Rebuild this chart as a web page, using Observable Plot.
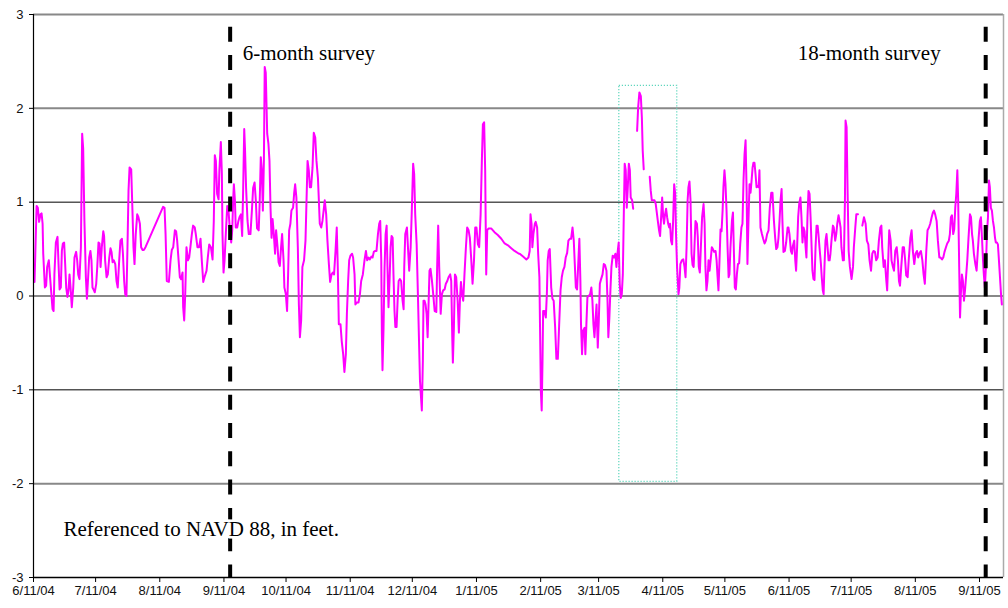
<!DOCTYPE html>
<html><head><meta charset="utf-8">
<script src="https://cdn.jsdelivr.net/npm/d3@7"></script>
<script src="https://cdn.jsdelivr.net/npm/@observablehq/plot@0.6"></script>
<style>body{margin:0;background:#fff;} svg{display:block}</style>
</head><body><div id="chart"></div>
<script>
// ---- data ----
const startDate = "2004-06-11T00:00Z";
const endDate = "2005-09-22T14:24Z";
const xTickLabels = ["6/11/04","7/11/04","8/11/04","9/11/04","10/11/04","11/11/04","12/11/04","1/11/05","2/11/05","3/11/05","4/11/05","5/11/05","6/11/05","7/11/05","8/11/05","9/11/05"];
const yTicks = [-3,-2,-1,0,1,2,3];
const gridGray = [3,2,0,-2];
const gridDark = [1,-1];
const surveyDates = ["2004-09-14","2005-09-14"];
const surveyLabels = ["6-month survey","18-month survey"];
const boxDates = ["2005-03-21","2005-04-18"];
const boxLevels = [-1.98, 2.24];
const note = "Referenced to NAVD 88, in feet.";
// [days since 6/11/04, water level ft]; null = gap in record
const readings = [
[0.5,0.15],[1.5,0.96],[2.1,0.94],[2.7,0.79],[3.4,0.87],[3.9,0.88],[4.4,0.77],[4.7,0.45],[5.5,0.09],[6.1,0.11],[6.6,0.31],[7.4,0.38],[7.9,0.23],[8.5,0.06],[9.2,-0.14],[9.7,-0.16],[10.1,0.23],[10.8,0.57],[11.6,0.63],[12.1,0.34],[12.6,0.07],[13.2,0.09],[13.7,0.48],[14.2,0.56],[14.8,0.57],[15.3,0.34],[15.8,0.09],[16.4,-0.01],[16.9,0.06],[17.4,0.23],[17.9,0.09],[18.5,-0.12],[19.2,0.09],[19.8,0.41],[20.6,0.47],[21.1,0.38],[21.6,0.23],[22.2,0.18],[22.9,0.52],[23.5,1.73],[24.0,1.57],[24.6,0.80],[25.3,0.20],[25.8,-0.03],[26.3,0.16],[26.9,0.41],[27.5,0.48],[28.0,0.38],[28.5,0.09],[29.2,0.06],[29.6,0.04],[30.3,0.13],[30.8,0.31],[31.4,0.57],[31.9,0.56],[32.4,0.31],[33.0,0.52],[33.7,0.69],[34.1,0.64],[34.6,0.38],[35.3,0.20],[35.9,0.23],[36.6,0.41],[37.2,0.51],[37.7,0.47],[38.2,0.36],[38.8,0.38],[39.5,0.34],[40.1,0.16],[40.7,0.09],[41.4,0.38],[42.0,0.59],[42.7,0.61],[43.2,0.45],[43.8,0.16],[44.3,0.02],[44.9,0.0],[45.4,0.52],[45.9,1.12],[46.4,1.37],[47.2,1.35],[47.8,0.91],[48.3,0.52],[48.8,0.34],[49.4,0.66],[50.1,0.87],[50.7,0.84],[51.4,0.77],[52.0,0.52],[52.7,0.49],[53.3,0.49],[54.1,0.52],[62.6,0.95],[63.3,0.94],[63.8,0.66],[64.4,0.16],[65.4,0.15],[66.2,0.38],[66.8,0.49],[67.5,0.52],[68.3,0.70],[68.9,0.69],[69.4,0.59],[70.1,0.38],[70.7,0.20],[71.3,0.18],[72.0,0.25],[72.3,-0.12],[72.8,-0.26],[73.3,0.02],[73.9,0.52],[74.6,0.38],[75.2,0.41],[75.8,0.52],[76.5,0.66],[77.1,0.75],[77.9,0.73],
[78.4,0.66],[79.2,0.52],[80.0,0.52],[80.7,0.61],[81.3,0.38],[82.0,0.15],[82.6,0.20],[83.6,0.27],[84.2,0.41],[84.9,0.55],[85.7,0.52],[86.5,0.39],[87.1,0.80],[87.6,1.50],[88.1,1.44],[88.7,1.09],[89.4,1.03],[89.8,1.34],[90.5,1.64],[91.0,1.30],[91.3,0.66],[91.8,0.25],[92.3,0.38],[92.9,0.66],[93.6,0.96],[94.2,0.91],[94.8,0.73],[95.5,0.57],[96.0,0.70],[96.5,1.05],[96.8,1.19],[97.3,1.02],[97.7,0.73],[98.4,0.73],[99.0,0.80],[99.5,0.84],[100.2,0.87],[100.8,0.64],[101.3,1.15],[101.8,1.78],[102.2,1.55],[102.7,1.15],[103.4,0.80],[104.0,0.66],[104.8,0.66],[105.5,0.91],[106.1,1.15],[106.8,1.21],[107.4,1.02],[108.0,0.72],[108.8,0.70],[109.3,1.02],[109.8,1.48],[110.3,1.34],[110.8,0.91],[111.3,1.44],[111.7,2.44],[112.2,2.38],[112.9,1.73],[113.5,1.62],[114.0,1.44],[114.5,0.94],[115.0,0.62],[115.5,0.82],[116.1,0.66],[116.7,0.45],[117.2,0.70],[117.9,0.52],[118.4,0.36],[119.0,0.32],[119.6,0.52],[120.1,0.66],[120.8,0.38],[121.2,0.09],[121.9,0.02],[122.5,-0.16],[123.0,0.23],[123.5,0.70],[124.1,0.77],[124.6,0.91],[125.4,0.94],[125.9,1.09],[126.4,1.19],[127.0,1.05],[127.7,0.52],[128.2,-0.09],[128.7,-0.44],[129.3,-0.26],[129.9,0.31],[130.7,0.38],[131.4,0.59],[131.9,1.02],[132.4,1.44],[133.0,1.34],[133.5,1.16],[134.1,1.16],[134.8,1.37],[135.4,1.74],[136.1,1.69],[136.7,1.44],[137.4,1.26],[137.8,1.05],[138.3,0.77],[139.0,0.73],[139.6,0.80],[140.3,0.94],[140.7,1.02],[141.4,0.87],[142.0,0.59],[142.7,0.34],[143.3,0.15],[144.0,0.23],[144.6,0.25],[145.2,0.23],[145.9,0.48],[146.5,0.73],[147.0,0.30],[147.5,-0.30],[148.3,-0.30],[148.9,-0.48],[149.6,-0.62],[150.2,-0.81],[150.9,-0.62],[151.4,-0.19],[152.0,0.16],[152.5,0.38],[153.1,0.43],[153.9,0.45],[154.4,0.41],[155.1,0.23],[155.5,-0.09],[156.2,-0.07],
[157.0,-0.07],[157.7,0.02],[158.3,0.16],[159.1,0.23],[159.9,0.38],[160.6,0.48],[161.2,0.38],[161.9,0.41],[162.5,0.39],[163.2,0.42],[163.8,0.41],[164.4,0.47],[165.1,0.48],[165.7,0.48],[166.4,0.66],[167.0,0.77],[167.5,0.80],[168.0,0.38],[168.3,-0.40],[168.6,-0.79],[169.1,-0.34],[169.6,0.31],[170.1,0.66],[170.6,0.75],[171.0,0.31],[171.5,-0.12],[172.0,0.16],[172.5,0.52],[173.0,0.64],[173.5,0.62],[173.9,0.23],[174.4,-0.16],[174.8,-0.33],[175.4,-0.33],[175.9,-0.05],[176.4,0.16],[177.0,0.18],[177.6,0.16],[178.3,-0.05],[178.8,-0.14],[179.1,0.31],[179.6,0.66],[180.4,0.73],[180.9,0.52],[181.5,0.27],[182.2,0.52],[182.8,0.94],[183.4,1.41],[183.9,1.30],[184.4,0.87],[185.1,0.55],[185.7,0.02],[186.2,-0.44],[186.7,-0.90],[187.1,-1.04],[187.6,-1.22],[188.1,-0.69],[188.4,-0.05],[188.9,-0.05],[189.4,-0.09],[189.9,-0.19],[190.4,-0.44],[190.9,-0.05],[191.3,0.27],[191.8,0.29],[192.5,0.16],[193.1,0.02],[193.8,-0.16],[194.6,-0.17],[195.0,0.31],[195.5,0.75],[196.0,0.31],[196.7,-0.19],[197.3,0.02],[197.9,0.06],[198.6,0.07],[199.2,0.13],[199.9,0.16],[200.5,0.20],[201.3,0.23],[201.8,0.16],[202.3,-0.44],[202.6,-0.71],[203.1,-0.33],[203.6,0.23],[204.2,0.20],[204.9,-0.05],[205.5,-0.39],[206.0,-0.05],[206.5,0.15],[207.0,0.02],[207.6,-0.05],[208.2,0.23],[208.9,0.52],[209.5,0.73],[210.2,0.70],[210.8,0.62],[211.5,0.38],[212.1,0.13],[212.8,0.38],[213.4,0.73],[214.0,0.73],[214.7,0.55],[215.3,0.52],[216.0,0.87],[216.6,1.44],[217.1,1.83],[217.7,1.85],[218.2,1.34],[218.7,0.23],[219.2,0.70],[219.8,0.72],[221.1,0.72],[222.7,0.68],[224.3,0.65],[226.0,0.61],[227.6,0.56],[229.2,0.54],[230.8,0.51],[232.4,0.48],[234.5,0.45],
[234.9,0.45],[236.5,0.42],[238.1,0.39],[239.1,0.41],[239.7,0.48],[240.1,0.87],[240.6,0.77],[241.0,0.52],[241.5,0.66],[242.2,0.77],[242.6,0.79],[243.3,0.73],[243.8,0.45],[244.4,0.20],[244.7,-0.33],[245.1,-1.01],[245.5,-1.22],[245.9,-0.69],[246.2,-0.16],[246.8,-0.16],[247.5,-0.23],[248.0,0.02],[248.4,0.38],[248.9,0.48],[249.4,0.50],[250.1,0.09],[250.7,-0.03],[251.3,-0.05],[252.0,-0.33],[252.6,-0.67],[253.3,-0.67],[253.9,-0.33],[254.6,0.06],[255.2,0.20],[255.8,0.27],[256.5,0.31],[257.1,0.41],[257.8,0.46],[258.4,0.59],[259.1,0.61],[259.7,0.61],[260.4,0.73],[261.0,0.59],[261.5,0.34],[262.0,0.09],[262.6,0.07],[263.3,0.41],[263.7,0.61],[264.2,0.16],[264.5,-0.30],[265.0,-0.62],[265.5,-0.37],[266.2,-0.34],[266.6,-0.62],[267.1,-0.30],[267.6,-0.01],[268.2,0.0],[268.9,0.02],[269.5,0.09],[270.0,-0.05],[270.5,-0.30],[271.0,-0.44],[271.5,-0.26],[272.0,-0.09],[272.6,-0.55],[273.1,-0.26],[273.6,0.13],[274.2,0.18],[274.9,0.23],[275.5,0.34],[276.1,0.33],[276.8,0.27],[277.3,-0.05],[277.7,-0.44],[278.2,-0.23],[278.7,0.06],[279.2,0.31],[279.8,0.43],[280.5,0.41],[281.1,0.45],[281.6,0.31],[282.1,0.45],[282.7,0.57],[283.2,0.13],[283.7,-0.02],[284.2,0.02],[284.7,0.23],[285.2,0.91],[285.6,1.41],[286.1,1.34],[286.6,0.94],[287.1,1.16],[287.6,1.41],[288.1,1.34],[288.5,1.05],[289.2,1.02],[289.7,0.93],[290.6,null],[291.6,1.76],[292.1,2.01],[292.7,2.17],[293.4,2.13],[293.9,1.90],[294.3,1.55],[294.8,1.35],[296.0,null],[297.7,1.27],[298.2,1.12],[298.7,1.02],[299.3,1.02],[300.0,1.02],[300.6,0.98],[301.1,0.89],[301.6,0.80],[302.2,0.70],[302.7,0.64],[303.2,0.84],[303.7,1.05],[304.2,0.84],[304.6,0.77],[305.1,0.87],[305.6,0.93],[306.1,0.84],[306.6,0.77],[307.1,0.73],[307.5,0.77],[308.0,0.59],[308.5,0.55],[309.0,0.80],[309.5,1.19],[310.0,1.09],[310.4,0.66],[310.9,0.31],[311.6,0.02],[312.0,0.09],[312.5,0.34],
[313.2,0.38],[313.9,0.39],[314.5,0.31],[315.0,0.20],[315.5,0.52],[316.0,1.02],[316.4,1.16],[316.9,1.22],[317.4,1.02],[317.9,0.45],[318.4,0.33],[318.9,0.31],[319.3,0.52],[319.8,0.80],[320.5,0.77],[320.9,0.63],[321.4,0.31],[321.9,0.25],[322.4,0.52],[323.0,0.84],[323.7,0.98],[324.2,0.77],[324.6,0.31],[325.1,0.06],[325.6,0.16],[326.1,0.38],[326.6,0.27],[327.1,0.38],[327.7,0.52],[328.2,0.50],[328.8,0.47],[329.5,0.48],[330.0,0.38],[330.4,0.23],[330.9,0.06],[331.4,0.38],[331.9,0.71],[332.4,0.69],[332.9,0.91],[333.3,1.16],[333.8,1.34],[334.3,1.19],[334.8,0.91],[335.3,0.52],[335.8,0.20],[336.2,0.23],[336.7,0.52],[337.4,0.80],[337.9,0.89],[338.3,0.52],[338.8,0.09],[339.3,0.07],[339.8,0.23],[340.3,0.34],[340.9,0.35],[341.4,0.55],[342.0,0.73],[342.5,0.77],[343.0,1.23],[343.5,1.51],[344.0,1.66],[344.5,1.12],[344.9,0.34],[345.4,0.80],[345.9,1.19],[346.4,1.10],[346.9,1.23],[347.4,1.37],[347.8,1.42],[348.3,1.42],[348.8,1.30],[349.3,1.16],[349.8,1.17],[350.3,1.16],[350.7,1.34],[351.2,0.73],[351.9,0.66],[352.5,0.61],[353.2,0.56],[353.8,0.59],[354.4,0.66],[355.1,0.70],[355.7,0.94],[356.4,1.10],[357.0,1.10],[357.7,0.80],[358.3,0.62],[358.8,0.50],[359.4,0.52],[359.9,0.62],[360.4,0.80],[360.9,1.02],[361.4,1.14],[361.8,0.80],[362.3,0.47],[363.0,0.48],[363.6,0.57],[364.3,0.73],[364.7,0.73],[365.2,0.66],[365.9,0.48],[366.4,0.45],[366.8,0.53],[367.5,0.59],[368.0,0.38],[368.4,0.27],[368.9,0.52],[369.4,0.84],[369.9,0.98],[370.5,1.05],[371.0,0.84],[371.5,0.57],[372.0,0.73],[372.5,0.69],[373.0,0.52],[373.4,0.41],[373.9,0.84],[374.4,1.12],[374.9,1.09],[375.4,0.84],[375.9,0.52],[376.3,0.27],[376.8,0.18],[377.3,0.17],[377.8,0.52],[378.3,0.75],[378.8,0.75],[379.2,0.66],[379.7,0.52],[380.4,0.34],[380.8,0.20],[381.3,0.06],[381.7,0.02],[382.1,0.31],[382.6,0.59],[383.1,0.66],[383.6,0.52],[384.1,0.38],[384.6,0.38],[385.0,0.45],[385.5,0.59],[386.2,0.75],[386.6,0.73],[387.3,0.59],[387.8,0.66],[388.3,0.77],[388.9,0.86],[389.4,0.80],[389.9,0.73],[390.3,0.52],[391.0,0.38],
[391.5,0.38],[392.0,1.02],[392.3,1.87],[392.8,1.80],[393.3,1.09],[393.8,0.48],[394.4,0.31],[395.2,0.18],[395.9,0.31],[396.3,0.52],[397.0,0.73],[397.5,0.87],[398.3,0.87],[399.3,null],[400.4,0.75],[401.2,0.84],[402.0,0.77],[402.6,0.59],[403.3,0.55],[403.9,0.38],[404.6,0.27],[405.2,0.45],[405.8,0.48],[406.5,0.47],[407.1,0.38],[407.8,0.41],[408.4,0.59],[409.1,0.73],[409.6,0.75],[410.0,0.52],[410.7,0.31],[411.3,0.38],[412.0,0.16],[412.4,0.06],[412.9,0.38],[413.4,0.70],[414.1,0.59],[414.5,0.38],[415.2,0.31],[415.7,0.27],[416.3,0.48],[417.0,0.52],[417.6,0.38],[418.1,0.16],[418.6,0.11],[419.2,0.31],[419.9,0.52],[420.5,0.52],[421.1,0.38],[421.6,0.22],[422.3,0.20],[422.9,0.41],[423.6,0.62],[424.2,0.70],[424.8,0.48],[425.5,0.34],[426.1,0.45],[426.8,0.48],[427.4,0.41],[428.1,0.46],[428.7,0.48],[429.4,0.38],[430.0,0.23],[430.6,0.13],[431.3,0.48],[431.9,0.70],[432.6,0.73],[433.2,0.77],[433.9,0.84],[434.5,0.89],[435.0,0.91],[435.6,0.87],[436.3,0.80],[436.9,0.59],[437.6,0.41],[438.2,0.41],[438.9,0.39],[439.5,0.41],[440.1,0.47],[440.8,0.52],[441.4,0.56],[442.2,0.59],[442.7,0.66],[443.2,0.84],[443.7,0.86],[444.3,0.66],[444.8,0.71],[445.3,0.94],[445.8,1.09],[446.3,1.34],[446.7,1.02],[447.2,0.31],[447.6,-0.23],[448.0,0.02],[448.5,0.23],[449.0,0.16],[449.5,-0.05],[450.0,0.06],[450.5,0.20],[451.1,0.38],[451.7,0.62],[452.4,0.87],[452.9,0.84],[453.4,0.66],[453.8,0.59],[454.3,0.45],[455.0,0.34],[455.6,0.27],[456.1,0.45],[456.6,0.62],[457.2,0.80],[457.7,0.84],[458.2,0.62],[458.7,0.38],[459.1,0.23],[459.6,0.09],[460.1,0.31],[460.6,0.66],[461.1,0.84],[461.6,1.23],[462.0,1.16],[462.5,0.94],[463.0,0.91],[463.5,0.80],[464.0,0.73],[464.5,0.62],[464.9,0.57],[465.4,0.57],[465.9,0.55],[466.4,0.38],[466.9,0.20],[467.4,0.02],[467.8,-0.09]
];

// ---- chart ----
const t0 = new Date(startDate);
const tEnd = new Date(endDate);
const toDate = d => new Date(+t0 + d * 864e5);
const parseTick = d3.utcParse("%m/%d/%y");
const xTicks = xTickLabels.map(parseTick);
const fmtTick = d => `${d.getUTCMonth() + 1}/${d.getUTCDate()}/${String(d.getUTCFullYear()).slice(2)}`;
const series = readings.map(([d, v]) => ({date: toDate(d), level: v}));
const box = [{x1: new Date(boxDates[0]), x2: new Date(boxDates[1]), y1: boxLevels[0], y2: boxLevels[1]}];
const serif = "'Liberation Serif', 'Times New Roman', serif";
const sans = "'Liberation Sans', Arial, sans-serif";

const chart = Plot.plot({
  width: 1008, height: 608,
  marginLeft: 33, marginRight: 5, marginTop: 14, marginBottom: 31,
  style: {fontFamily: sans, fontSize: "13px", color: "#000", background: "#fff", overflow: "visible"},
  x: {type: "utc", domain: [t0, tEnd]},
  y: {domain: [-3, 3]},
  marks: [
    Plot.ruleY(gridGray, {stroke: "#888", strokeWidth: 2}),
    Plot.ruleY(gridDark, {stroke: "#000", strokeWidth: 1}),
    Plot.ruleX([tEnd], {stroke: "#aaa", strokeWidth: 1.5}),
    Plot.rect(box, {x1: "x1", x2: "x2", y1: "y1", y2: "y2", fill: "none", stroke: "#5fd6bd", strokeWidth: 1.2, strokeDasharray: "1.2,1.8"}),
    Plot.line(series, {x: "date", y: "level", stroke: "#ff00ff", strokeWidth: 2, curve: "linear"}),
    Plot.ruleX(surveyDates, {x: d => new Date(d), stroke: "#000", strokeWidth: 4, strokeDasharray: "15,13.3", strokeDashoffset: 15.5}),
    Plot.ruleX([t0], {stroke: "#000", strokeWidth: 1.2}),
    Plot.ruleY([-3], {stroke: "#000", strokeWidth: 1.5}),
    Plot.axisY({ticks: yTicks, tickSize: 4, tickPadding: 6, tickFormat: d => String(d), label: null, fontSize: 13, fontFamily: sans, fill: "#111"}),
    Plot.axisX({ticks: xTicks, tickSize: 5, tickPadding: 3, tickFormat: fmtTick, label: null, fontSize: 13, fontFamily: sans, fill: "#111"}),
    Plot.text([surveyDates[0]], {x: d => new Date(d), text: () => surveyLabels[0], frameAnchor: "top", dy: 45, dx: 12.5, lineAnchor: "bottom", textAnchor: "start", fontFamily: serif, fontSize: 21, fill: "#000"}),
    Plot.text([surveyDates[1]], {x: d => new Date(d), text: () => surveyLabels[1], frameAnchor: "top", dy: 45, dx: -45, lineAnchor: "bottom", textAnchor: "end", fontFamily: serif, fontSize: 21, fill: "#000"}),
    Plot.text([note], {text: d => d, frameAnchor: "bottom-left", dx: 30, dy: -42, lineAnchor: "bottom", textAnchor: "start", fontFamily: serif, fontSize: 21, fill: "#000", stroke: "#fff", strokeWidth: 5})
  ]
});
document.getElementById("chart").append(chart);
</script>
</body></html>
